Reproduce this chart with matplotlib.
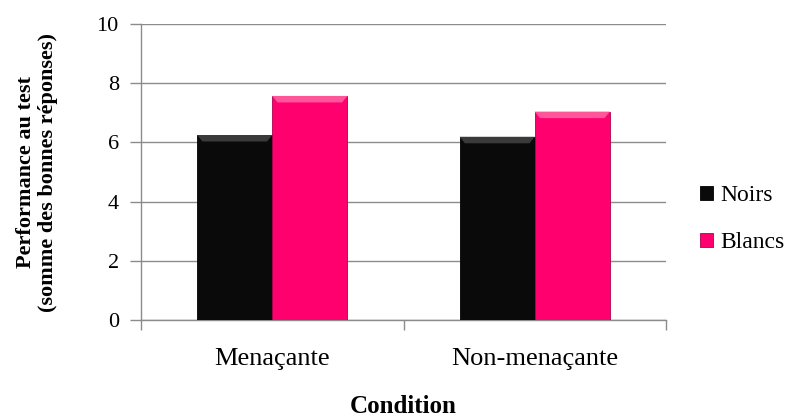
import matplotlib
matplotlib.use("Agg")
import matplotlib.pyplot as plt
import numpy as np

categories = ["Menaçante", "Non-menaçante"]
series_names = ["Noirs", "Blancs"]
noirs = [6.25, 6.19]
blancs = [7.57, 7.04]
yticks = [0, 2, 4, 6, 8, 10]

colors = ["#0a0a0a", "#FF006E"]
edge = ["#000000", "#b0004c"]

plt.rcParams['font.family'] = ['Liberation Serif', 'DejaVu Serif']

fig = plt.figure(figsize=(7.98, 4.17), dpi=100)
ax = fig.add_axes([141/798, 1-320/417, (666-141)/798, (320-24)/417])

x = np.arange(len(categories))
w = 0.286
for i, (vals, c, ec, name) in enumerate(zip([noirs, blancs], colors, edge, series_names)):
    bars = ax.bar(x + (i - 0.5) * w, vals, w, color=c, edgecolor=ec, linewidth=0.6,
                  label=name, zorder=3)
    for b in bars:
        bx, bw, bh = b.get_x(), b.get_width(), b.get_height()
        hl = "#3a3a3a" if i == 0 else "#ff5599"
        ax.fill([bx, bx + bw, bx + bw * 0.93, bx + bw * 0.07],
                [bh, bh, bh - 0.22, bh - 0.22], color=hl, zorder=4, lw=0)

ax.set_xlim(-0.5, 1.5)
ax.set_ylim(0, 10)
ax.set_yticks(yticks)
ax.set_yticklabels([str(t) for t in yticks], fontsize=16)
ax.set_xticks([-0.5, 0.5, 1.5])
ax.set_xticklabels([])
ax.set_xticks(x, minor=True)
ax.set_xticklabels(categories, minor=True, fontsize=19)
ax.tick_params(axis='x', which='minor', length=0, pad=20)
ax.tick_params(axis='x', which='major', length=7, color='#8c8c8c', width=1)
ax.tick_params(axis='y', length=8, color='#8c8c8c', width=1, pad=8)

ax.grid(axis='y', color='#8c8c8c', linewidth=1, zorder=0)
for s in ['top', 'right']:
    ax.spines[s].set_visible(False)
for s in ['left', 'bottom']:
    ax.spines[s].set_color('#8c8c8c')
    ax.spines[s].set_linewidth(1)

ax.set_xlabel("Condition", fontsize=18, fontweight='bold', labelpad=18)
ax.set_ylabel("Performance au test\n(somme des bonnes réponses)", fontsize=16,
              fontweight='bold', labelpad=28, linespacing=1.1)

leg = ax.legend(loc='center left', bbox_to_anchor=(1.025, 0.34), frameon=False,
                fontsize=17, handlelength=0.55, handleheight=0.55, handletextpad=0.3,
                labelspacing=1.1)

fig.savefig("out.png", dpi=100)
